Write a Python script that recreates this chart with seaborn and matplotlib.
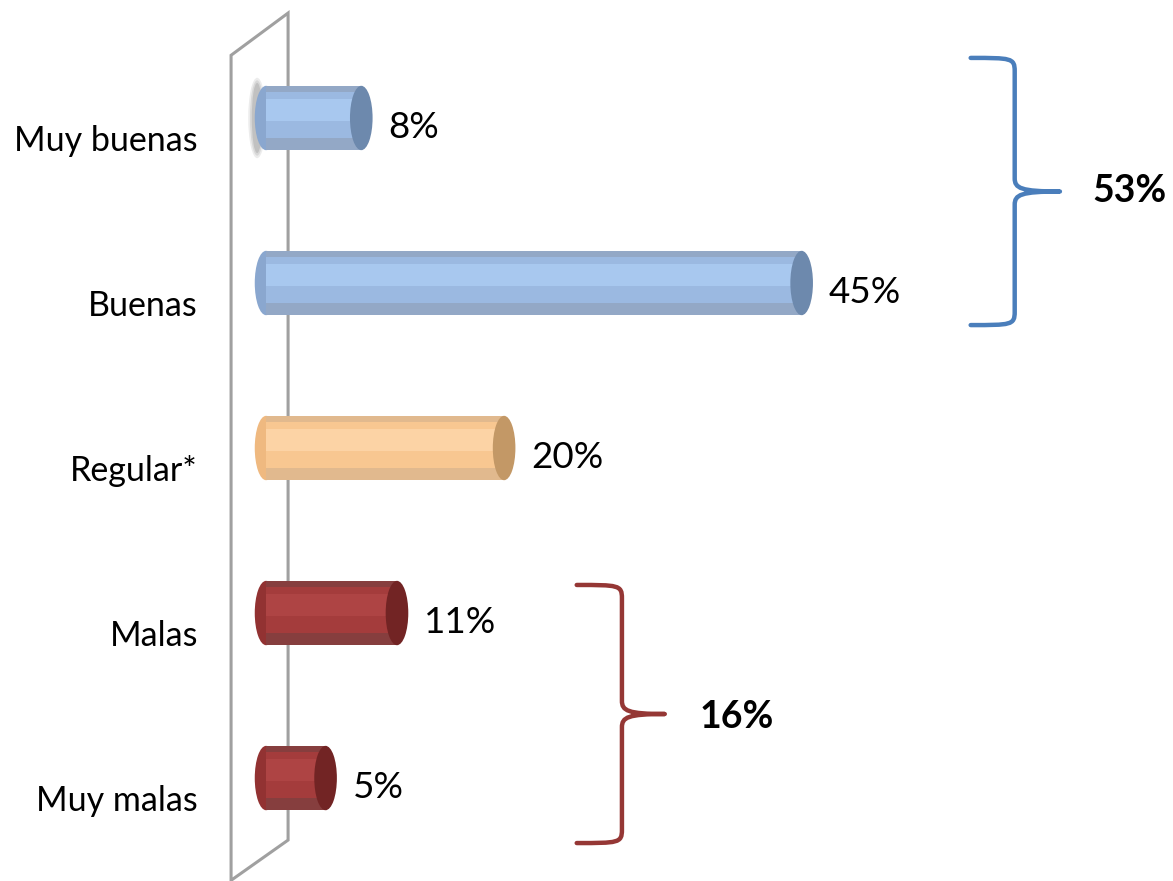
import matplotlib
matplotlib.use("Agg")
import matplotlib.pyplot as plt
import seaborn as sns
import pandas as pd
from matplotlib.patches import Ellipse, PathPatch, Polygon
from matplotlib.path import Path
from matplotlib.transforms import ScaledTranslation

categories = ["Muy buenas", "Buenas", "Regular*", "Malas", "Muy malas"]
values = [8, 45, 20, 11, 5]
groups = ["pos", "pos", "neu", "neg", "neg"]
group_totals = {"pos": 53, "neg": 16}

base_col = {"pos": "#8aa7cf", "neu": "#efb980", "neg": "#923232"}
mid_col = {"pos": "#9bb9e1", "neu": "#f8c791", "neg": "#a43c3c"}
hi_col = {"pos": "#a8c8ef", "neu": "#fcd3a5", "neg": "#ae4444"}
cap_col = {"pos": "#6d89ad", "neu": "#c39866", "neg": "#722424"}
brace_col = {"pos": "#4a7ebb", "neg": "#953735"}

df = pd.DataFrame({"cat": categories, "val": values, "grp": groups})

sns.set_theme(style="white")
plt.rcParams["font.family"] = ["Lato", "DejaVu Sans"]

fig = plt.figure(figsize=(11.73, 8.81), dpi=100)
ax = fig.add_axes([230 / 1173, 0, 943 / 1173, 1])

bar_h = 0.39
sns.barplot(data=df, x="val", y="cat", hue="grp", palette=base_col, orient="h",
            width=bar_h, dodge=False, legend=False, ax=ax, zorder=3, linewidth=0)

ax.set_xlim(-3.03, 76.2)
ax.set_ylim(4.624, -0.715)
cap_w = 1.9

for i, (v, g) in enumerate(zip(values, groups)):
    # cylinder shading layers
    ax.barh(i - 0.02, v, height=bar_h * 0.72, color=mid_col[g], lw=0, zorder=4)
    ax.barh(i - 0.05, v, height=bar_h * 0.34, color=hi_col[g], lw=0, zorder=5)
    ax.add_patch(Ellipse((0, i), cap_w, bar_h, color=base_col[g], lw=0, zorder=2))
    ax.add_patch(Ellipse((v, i), cap_w, bar_h, color=cap_col[g], lw=0, zorder=6))
    ax.text(v + 2.3, i + 0.06, f"{v}%", fontsize=26.5, color="black",
            va="center", ha="left", zorder=7)

# soft shadow behind first bar
for k, a in enumerate([0.12, 0.15, 0.2]):
    ax.add_patch(Ellipse((-0.75, 0), 1.5 - 0.3 * k, bar_h * (1.25 - 0.08 * k),
                         color="#666666", alpha=a, zorder=1.5, lw=0))

# wall
wall = Polygon([(-2.94, -0.38), (1.85, -0.636), (1.85, 4.376), (-2.94, 4.62)],
               closed=True, fill=False, edgecolor="#a0a0a0", lw=2.2,
               zorder=1, clip_on=False)
ax.add_patch(wall)


def brace(x_tip, x_mid, x_pt, y_top, y_bot, color):
    yc = (y_top + y_bot) / 2
    ry = 0.08
    verts = [
        (x_tip, y_top), (x_mid - 0.3, y_top), (x_mid, y_top), (x_mid, y_top + ry),
        (x_mid, yc - ry),
        (x_mid, yc - 0.02), (x_mid + 0.5, yc), (x_pt, yc),
        (x_mid + 0.5, yc), (x_mid, yc + 0.02), (x_mid, yc + ry),
        (x_mid, y_bot - ry),
        (x_mid, y_bot), (x_mid - 0.3, y_bot), (x_tip, y_bot),
    ]
    codes = [Path.MOVETO, Path.CURVE4, Path.CURVE4, Path.CURVE4,
             Path.LINETO,
             Path.CURVE4, Path.CURVE4, Path.CURVE4,
             Path.CURVE4, Path.CURVE4, Path.CURVE4,
             Path.LINETO,
             Path.CURVE4, Path.CURVE4, Path.CURVE4]
    ax.add_patch(PathPatch(Path(verts, codes), fill=False, edgecolor=color,
                           lw=3.2, capstyle="round", joinstyle="round", zorder=3))
    return yc


yc = brace(59.2, 62.9, 66.7, -0.364, 1.255, brace_col["pos"])
ax.text(69.4, yc, f"{group_totals['pos']}%", fontsize=27, fontweight="bold",
        color="black", va="center", ha="left")
yc = brace(26.1, 29.9, 33.5, 2.83, 4.394, brace_col["neg"])
ax.text(36.4, yc + 0.02, f"{group_totals['neg']}%", fontsize=27, fontweight="bold",
        color="black", va="center", ha="left")

ax.set_xlabel("")
ax.set_ylabel("")
ax.set_xticks([])
ax.tick_params(axis="y", length=0, pad=23, labelsize=24.5, labelcolor="black")
for lbl in ax.get_yticklabels():
    lbl.set_transform(lbl.get_transform() + ScaledTranslation(0, -0.2, fig.dpi_scale_trans))
sns.despine(ax=ax, left=True, bottom=True)

fig.savefig("out.png", dpi=100)
plt.close(fig)
